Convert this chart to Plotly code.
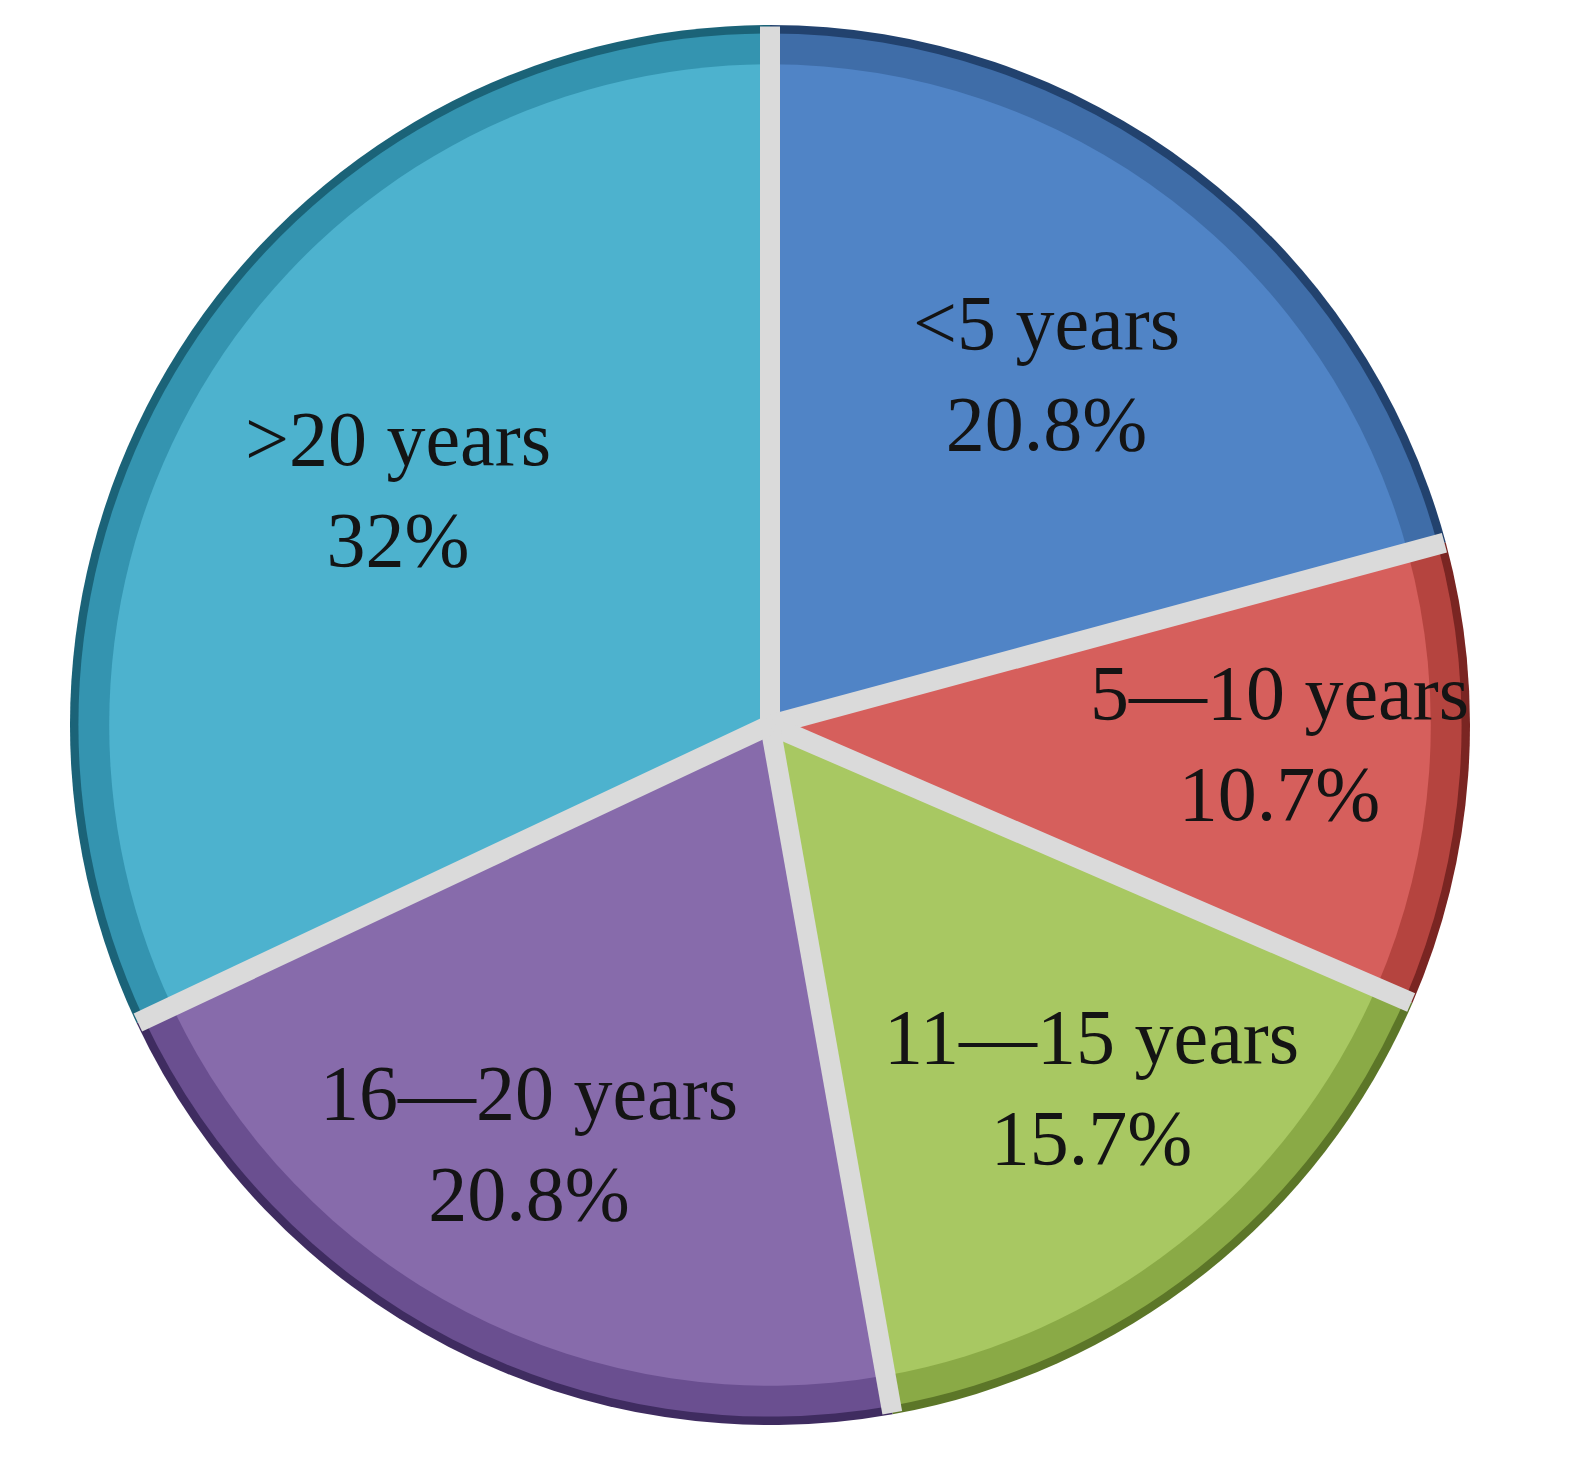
import math
import plotly.graph_objects as go

categories = ["<5 years", "5\u201410 years", "11\u201415 years", "16\u201420 years", ">20 years"]
values = [20.8, 10.7, 15.7, 20.8, 32.0]
value_labels = ["20.8%", "10.7%", "15.7%", "20.8%", "32%"]
colors = ["#5084C6", "#D65F5C", "#A8C862", "#876BAB", "#4DB2CE"]
mid_colors = ["#3F6DA8", "#B5443F", "#8AAA46", "#6A4F90", "#3494B0"]
edge_colors = ["#22426E", "#7A2522", "#5C7628", "#3F2C60", "#1B6378"]
label_radius = [0.65, 0.73, 0.74, 0.75, 0.63]

W, H = 1575, 1459
ML, MR, MT, MB = 62, 113, 17, 42
pw, ph = W - ML - MR, H - MT - MB

fig = go.Figure()
for cols, s in [(edge_colors, 0.0), (mid_colors, 0.006), (colors, 0.028)]:
    fig.add_trace(go.Pie(
        labels=categories, values=values, sort=False, direction="clockwise", rotation=0,
        marker=dict(colors=cols, line=dict(width=0)),
        textinfo="none", hoverinfo="skip", showlegend=False,
        domain=dict(x=[s, 1 - s], y=[s, 1 - s]),
    ))

total = sum(values)
r_px = min(pw, ph) / 2

# gaps between slices
cum = 0.0
for val in values:
    a = cum / total * 2 * math.pi
    cum += val
    fig.add_shape(
        type="line", xref="paper", yref="paper",
        x0=0.5, y0=0.5,
        x1=0.5 + 0.998 * r_px * math.sin(a) / pw, y1=0.5 + 0.998 * r_px * math.cos(a) / ph,
        line=dict(color="#DADADA", width=20), layer="above",
    )

# labels at each slice's mid-angle
cum = 0.0
for cat, val, lab, fr in zip(categories, values, value_labels, label_radius):
    mid = (cum + val / 2) / total * 2 * math.pi
    cum += val
    dx = r_px * fr * math.sin(mid)
    dy = r_px * fr * math.cos(mid) * 0.93
    fig.add_annotation(
        x=0.5 + dx / pw, y=0.5 + dy / ph, xref="paper", yref="paper",
        xanchor="center", yanchor="middle", yshift=16,
        text=f"{cat}<br>{lab}", showarrow=False, align="center",
        font=dict(family="Liberation Serif, DejaVu Serif, serif", size=78, color="#141414"),
    )

fig.update_layout(
    width=W, height=H,
    margin=dict(l=ML, r=MR, t=MT, b=MB),
    paper_bgcolor="white", plot_bgcolor="white",
    showlegend=False,
)
fig.write_html("out.html")
